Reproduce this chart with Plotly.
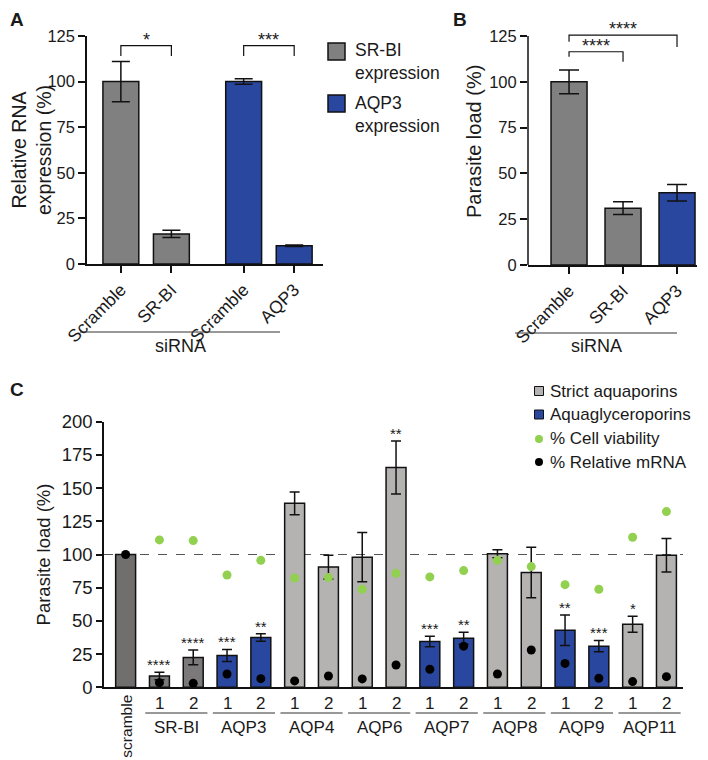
import plotly.graph_objects as go

# the page body keeps its default 8px margin, so the figure is drawn 8px smaller
# and every reference pixel position is shifted by that offset
OFF = 8
W, H = 708 - OFF, 760 - OFF
FONT = "Liberation Sans, Arial, Helvetica, sans-serif"

# ---------------- data ----------------
# Panel A
a_labels = ["Scramble", "SR-BI", "Scramble", "AQP3"]
a_target = ["SR-BI", "SR-BI", "AQP3", "AQP3"]
a_values = [100, 16.5, 100, 10]
a_errors = [11, 2, 1.5, 0.4]
a_sig = ["*", "***"]
a_legend = ["SR-BI<br>expression", "AQP3<br>expression"]

# Panel B
b_labels = ["Scramble", "SR-BI", "AQP3"]
b_target = ["SR-BI", "SR-BI", "AQP3"]
b_values = [100, 31, 39.5]
b_errors = [6.5, 3.5, 4.5]
b_sig = ["****", "****"]

# Panel C
c_genes = ["scramble", "SR-BI", "SR-BI", "AQP3", "AQP3", "AQP4", "AQP4", "AQP6", "AQP6",
           "AQP7", "AQP7", "AQP8", "AQP8", "AQP9", "AQP9", "AQP11", "AQP11"]
c_sirna = ["", "1", "2", "1", "2", "1", "2", "1", "2", "1", "2", "1", "2", "1", "2", "1", "2"]
c_class = ["control", "SR-BI", "SR-BI", "aqg", "aqg", "strict", "strict", "strict", "strict",
           "aqg", "aqg", "strict", "strict", "aqg", "aqg", "strict", "strict"]
c_load = [100, 8.5, 22.5, 24, 37.5, 138.5, 90.5, 98, 165.5, 34.5, 37, 100.5, 86.5, 43, 31, 47.5, 99.5]
c_load_err = [0, 2.8, 5.5, 4.5, 2.8, 8.5, 9, 18.5, 20, 4, 4.5, 3, 19, 11.5, 4.3, 6, 12.6]
c_viability = [None, 111, 110.5, 84.6, 95.6, 82.3, 82.6, 73.8, 85.8, 83.1, 87.9, 95.6, 90.9,
               77.3, 73.8, 113, 132.3]
c_mrna = [100, 3.5, 3, 10, 6.5, 4.8, 8.5, 6.3, 16.8, 13.6, 31, 10, 28.1, 18, 6.8, 4.3, 8]
c_sig = ["", "****", "****", "***", "**", "", "", "", "**", "***", "**", "", "", "**", "***", "*", ""]
c_legend = ["Strict aquaporins", "Aquaglyceroporins", "% Cell viability", "% Relative mRNA"]

# ---------------- style ----------------
GREY = "#808080"
BLUE = "#2a47a0"
C_COLORS = {"control": "#716e6e", "SR-BI": "#7b7979", "strict": "#b5b2b2", "aqg": BLUE}
GREEN = "#92d050"
INK = "#111111"
TXT = "#1a1a1a"


def fx(px):
    return (px - OFF) / W


def fy(px):
    return 1 - (px - OFF) / H


def note(text, x, y, xref="paper", yref="paper", size=16, xanchor="center",
         yanchor="middle", **kw):
    return dict(text=text, x=x, y=y, xref=xref, yref=yref, showarrow=False,
                xanchor=xanchor, yanchor=yanchor, font=dict(size=size, color=TXT), **kw)


fig = go.Figure()

# ---- Panel A ----
a_x = [i + 0.43 * (t == "AQP3") for i, t in enumerate(a_target)]
fig.add_trace(go.Bar(
    x=a_x, y=a_values, width=0.71,
    marker=dict(color=[GREY if t == "SR-BI" else BLUE for t in a_target],
                line=dict(color=INK, width=1.5)),
    error_y=dict(type="data", array=a_errors, color=INK, thickness=1.5, width=9),
    xaxis="x", yaxis="y", showlegend=False, name="Panel A"))

# ---- Panel B ----
b_x = list(range(len(b_labels)))
fig.add_trace(go.Bar(
    x=b_x, y=b_values, width=0.667,
    marker=dict(color=[GREY if t == "SR-BI" else BLUE for t in b_target],
                line=dict(color=INK, width=1.5)),
    error_y=dict(type="data", array=b_errors, color=INK, thickness=1.5, width=10),
    xaxis="x2", yaxis="y2", showlegend=False, name="Panel B"))

# ---- Panel C ----
c_x = list(range(len(c_genes)))
c_names = {"control": "scramble", "SR-BI": "SR-BI", "strict": "Strict aquaporins",
           "aqg": "Aquaglyceroporins"}
for cls in ["control", "SR-BI", "strict", "aqg"]:
    idx = [i for i, c in enumerate(c_class) if c == cls]
    bar = dict(
        x=[c_x[i] for i in idx], y=[c_load[i] for i in idx], width=0.59,
        marker=dict(color=C_COLORS[cls], line=dict(color=INK, width=1.5)),
        xaxis="x3", yaxis="y3", showlegend=False, name=c_names[cls])
    if cls != "control":
        bar["error_y"] = dict(type="data", array=[c_load_err[i] for i in idx],
                              color=INK, thickness=1.5, width=5)
    fig.add_trace(go.Bar(**bar))

vi = [i for i, v in enumerate(c_viability) if v is not None]
fig.add_trace(go.Scatter(
    x=[c_x[i] for i in vi], y=[c_viability[i] for i in vi], mode="markers",
    marker=dict(color=GREEN, size=9), xaxis="x3", yaxis="y3",
    showlegend=False, name="% Cell viability"))
fig.add_trace(go.Scatter(
    x=c_x, y=c_mrna, mode="markers", marker=dict(color="#000000", size=9),
    xaxis="x3", yaxis="y3", showlegend=False, name="% Relative mRNA"))

# ---------------- layout ----------------
axis_common = dict(showgrid=False, zeroline=False, linecolor=INK, linewidth=1.5,
                   ticks="outside", tickcolor=INK, tickwidth=1.5, automargin=False)

shapes = []
annotations = []

# panel letters
for letter, (px, py) in zip("ABC", [(17, 8), (460, 8), (17, 378)]):
    annotations.append(note("<b>%s</b>" % letter, fx(px), fy(py), size=19,
                            yanchor="top", borderpad=0))

# significance brackets A
a_pairs = [(a_x[0], a_x[1]), (a_x[2], a_x[3])]
for (x0, x1), s in zip(a_pairs, a_sig):
    shapes.append(dict(type="path", xref="x", yref="y",
                       path="M %s,114 L %s,119.7 L %s,119.7 L %s,114" % (x0, x0, x1, x1),
                       line=dict(color=INK, width=1.2)))
    annotations.append(note(s, (x0 + x1) / 2, 119.7, "x", "y", size=18,
                            yanchor="bottom", yshift=-6))

# significance brackets B
b_brackets = [(0, 1, 113.7, 116.4, 111), (0, 2, 121.9, 125.5, 119)]
for (x0, x1, yl, yt, yr), s in zip(b_brackets, b_sig):
    shapes.append(dict(type="path", xref="x2", yref="y2",
                       path="M %s,%s L %s,%s L %s,%s L %s,%s" % (x0, yl, x0, yt, x1, yt, x1, yr),
                       line=dict(color=INK, width=1.2)))
    annotations.append(note(s, (x0 + x1) / 2, yt, "x2", "y2", size=18,
                            yanchor="bottom", yshift=-6))

# B y-axis line (only up to 125)
shapes.append(dict(type="line", xref="x2 domain", yref="y2", x0=0, x1=0, y0=0, y1=125,
                   line=dict(color=INK, width=1.5)))

# siRNA lines
for x0, x1, yl, xt, yt in [(80, 280, 332, 180, 346), (515, 677, 333, 596, 346)]:
    shapes.append(dict(type="line", xref="paper", yref="paper", x0=fx(x0), x1=fx(x1),
                       y0=fy(yl), y1=fy(yl), line=dict(color="#333333", width=1)))
    annotations.append(note("siRNA", fx(xt), fy(yt), size=18))

# A legend
for (top, col), txt in zip([(43, GREY), (95, BLUE)], a_legend):
    shapes.append(dict(type="rect", xref="paper", yref="paper", x0=fx(328), x1=fx(345),
                       y0=fy(top + 17), y1=fy(top), fillcolor=col,
                       line=dict(color=INK, width=1.5)))
    annotations.append(note(txt, fx(353), fy(top + 19), size=17.5, xanchor="left",
                            align="left"))

# C dashed reference line
shapes.append(dict(type="line", xref="x3 domain", yref="y3", x0=0, x1=1, y0=100, y1=100,
                   layer="below", line=dict(color="#555555", width=1, dash="dash")))

# C significance stars
for i, s in enumerate(c_sig):
    if s:
        annotations.append(note(s, c_x[i], c_load[i] + c_load_err[i], "x3", "y3", size=15,
                                yanchor="bottom", yshift=-3))

# C category labels
for i, s in enumerate(c_sirna):
    if s:
        annotations.append(note(s, c_x[i], fy(703), "x3", "paper", size=17))
annotations.append(note(c_genes[0], c_x[0], fy(726), "x3", "paper", size=15.5,
                        textangle=-90))
seen = []
for g in c_genes[1:]:
    if g not in seen:
        seen.append(g)
for g in seen:
    idx = [c_x[i] for i, gg in enumerate(c_genes) if gg == g]
    shapes.append(dict(type="line", xref="x3", yref="paper", x0=min(idx) - 0.42,
                       x1=max(idx) + 0.42, y0=fy(713), y1=fy(713),
                       line=dict(color="#333333", width=1)))
    annotations.append(note(g, sum(idx) / len(idx), fy(727), "x3", "paper", size=17))

# C legend
leg_rows = [391, 414.5, 439, 462]
for k, (row, txt) in enumerate(zip(leg_rows, c_legend)):
    if k < 2:
        col = C_COLORS["strict"] if k == 0 else BLUE
        shapes.append(dict(type="rect", xref="paper", yref="paper", x0=fx(534.5),
                           x1=fx(543.5), y0=fy(row + 4.5), y1=fy(row - 4.5),
                           fillcolor=col, line=dict(color=INK, width=1)))
    else:
        col = GREEN if k == 2 else "#000000"
        shapes.append(dict(type="circle", xref="paper", yref="paper", x0=fx(535),
                           x1=fx(543), y0=fy(row + 4), y1=fy(row - 4),
                           fillcolor=col, line=dict(color=col, width=0)))
    annotations.append(note(txt, fx(548), fy(row), size=17, xanchor="left"))

fig.update_layout(
    width=W, height=H, margin=dict(l=0, r=0, t=0, b=0, autoexpand=False),
    paper_bgcolor="white", plot_bgcolor="white",
    font=dict(family=FONT, color=TXT),
    barmode="overlay", showlegend=False,
    xaxis=dict(domain=[fx(87), fx(323)], range=[-0.67, 4.0], tickvals=a_x,
               ticktext=a_labels, tickangle=-45, ticklen=7, showline=True,
               tickfont=dict(size=17.5), anchor="y", **axis_common),
    yaxis=dict(domain=[fy(264), fy(36)], range=[0, 125], tickvals=[0, 25, 50, 75, 100, 125],
               ticklen=7, showline=True, tickfont=dict(size=16.5), anchor="x",
               title=dict(text="Relative RNA<br>expression (%)", font=dict(size=19.5), standoff=3),
               **axis_common),
    xaxis2=dict(domain=[fx(528), fx(697)], range=[-0.76, 2.37], tickvals=b_x,
                ticktext=b_labels, tickangle=-45, ticklen=7, showline=True,
                tickfont=dict(size=17.5), anchor="y2", **axis_common),
    yaxis2=dict(domain=[fy(265), fy(17.7)], range=[0, 135], tickvals=[0, 25, 50, 75, 100, 125],
                ticklen=7, showline=False, tickfont=dict(size=16.5), anchor="x2",
                title=dict(text="Parasite load (%)", font=dict(size=20), standoff=2),
                **axis_common),
    xaxis3=dict(domain=[fx(104), fx(683)], range=[-0.64, 16.49], showticklabels=False,
                showline=True, anchor="y3", showgrid=False, zeroline=False, linecolor=INK,
                linewidth=1.5, ticks="", automargin=False),
    yaxis3=dict(domain=[fy(687.3), fy(421.7)], range=[0, 200],
                tickvals=[0, 25, 50, 75, 100, 125, 150, 175, 200], ticklen=6, showline=True,
                tickfont=dict(size=18.5), anchor="x3",
                title=dict(text="Parasite load (%)", font=dict(size=18.5), standoff=6),
                **axis_common),
    shapes=shapes, annotations=annotations,
)

fig.write_html("out.html")
